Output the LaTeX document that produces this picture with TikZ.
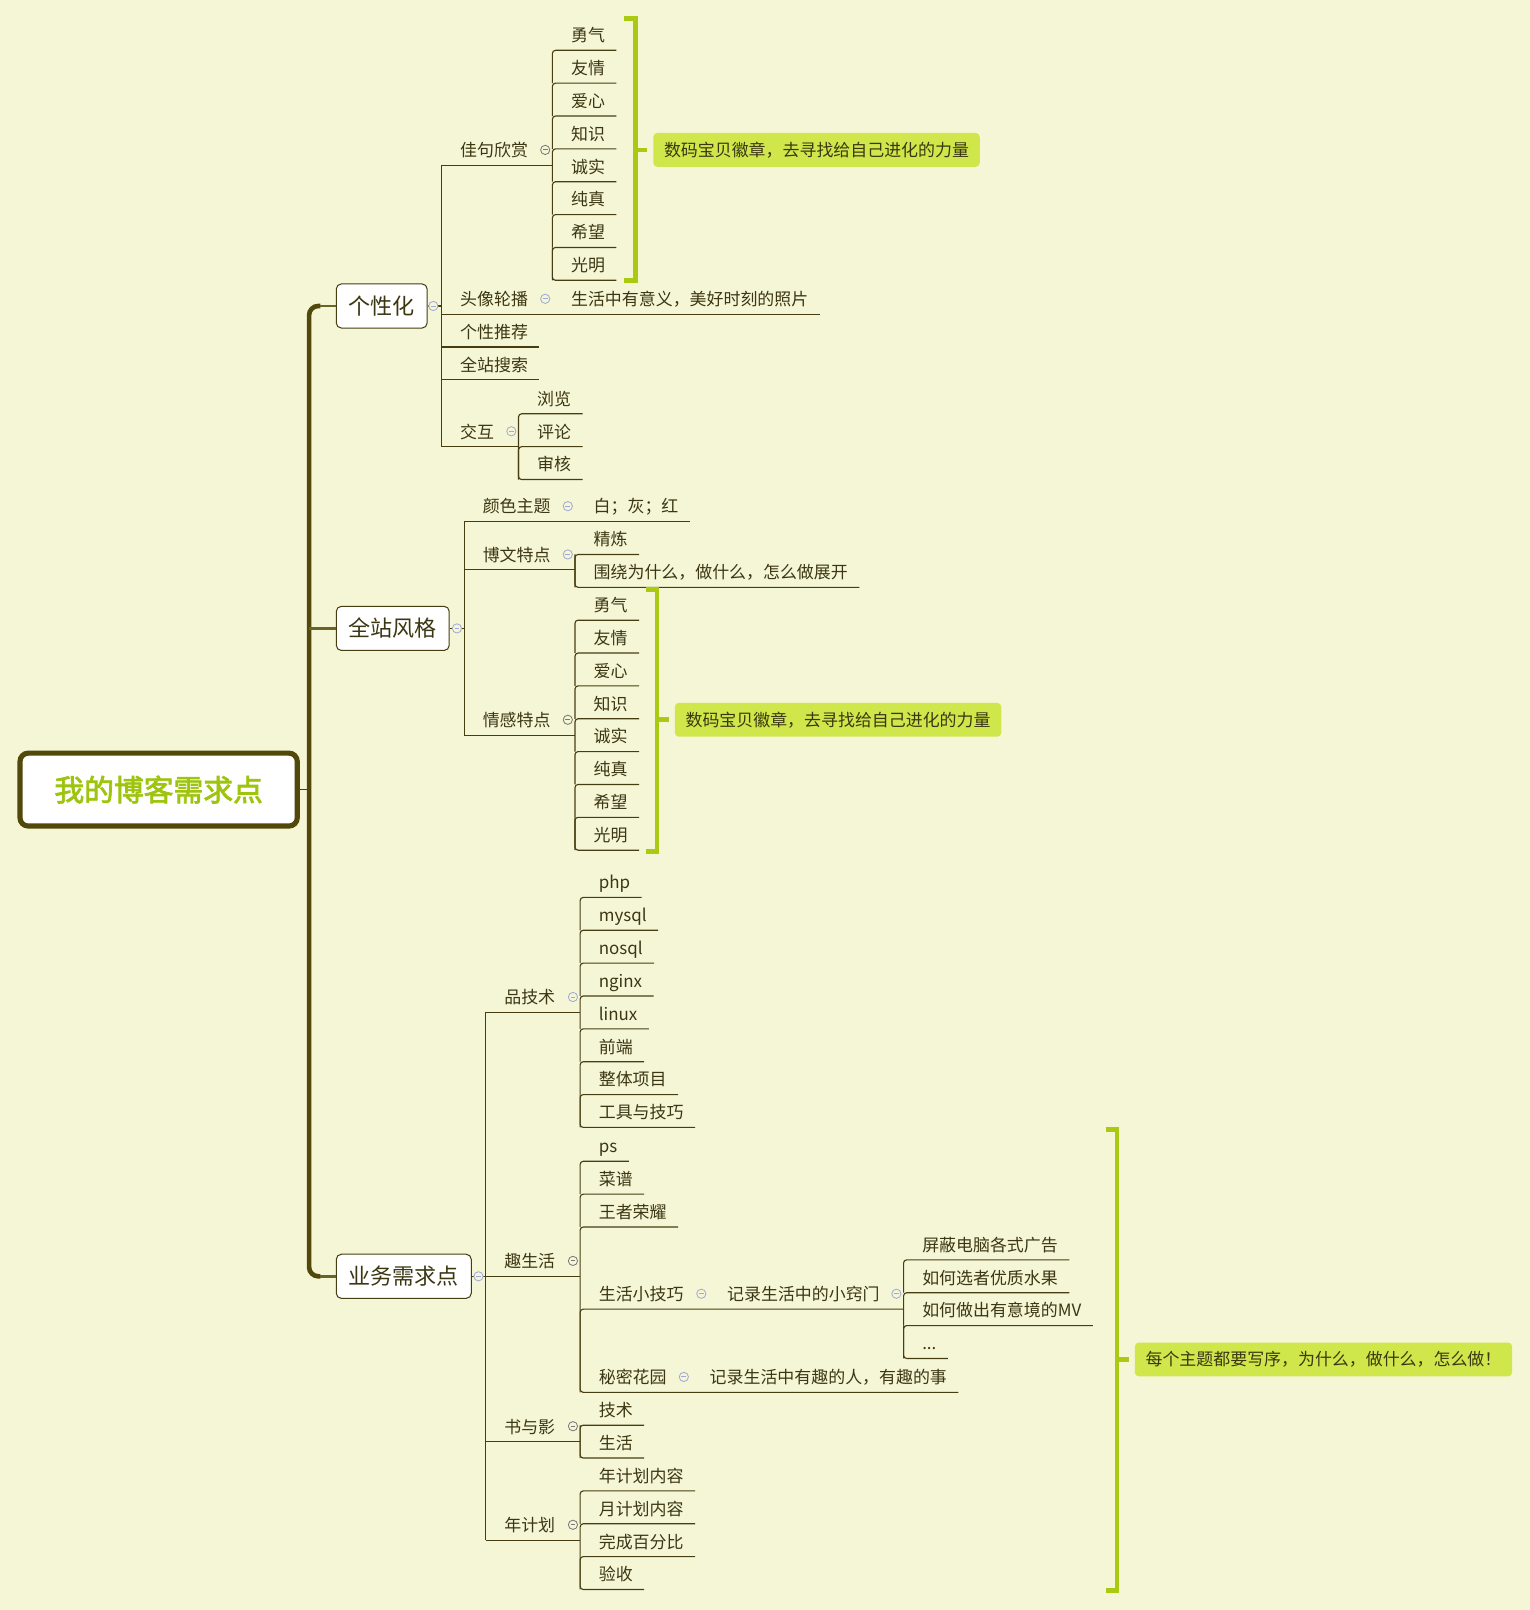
\documentclass[tikz,border=0pt]{standalone}
\usepackage{fontspec}
\setmainfont{Noto Sans CJK SC}
\newfontfamily\rootfont[FakeBold=2.5]{Noto Sans CJK SC}
\usetikzlibrary{calc}
\definecolor{bg}{RGB}{245,246,214}
\definecolor{txt}{RGB}{60,55,18}
\definecolor{lnc}{RGB}{70,62,18}
\definecolor{trunkc}{RGB}{82,72,10}
\definecolor{rootg}{RGB}{158,196,14}
\definecolor{brk}{RGB}{170,202,18}
\definecolor{cofill}{RGB}{207,231,74}
\definecolor{togl}{RGB}{160,168,215}
\definecolor{togd}{RGB}{120,120,120}
\tikzset{
 ln/.style={draw=lnc, line width=1.1pt},
 rc/.style={ln, rounded corners=3pt},
 leaf/.style={anchor=south west, inner xsep=11pt, inner ysep=8.2pt, text depth=0pt, text=txt, font=\fontsize{16.5}{20}\selectfont},
 topic/.style={anchor=west, draw=lnc, fill=white, rounded corners=5pt, line width=1pt, inner xsep=12pt, minimum height=43pt, text=txt, font=\fontsize{21.5}{26}\selectfont},
 rootbox/.style={draw=trunkc, line width=5pt, fill=white, rounded corners=8pt, minimum width=270pt, minimum height=71pt, text=rootg, font=\rootfont\fontsize{29}{34}\selectfont},
 callout/.style={anchor=west, fill=cofill, rounded corners=4pt, minimum height=33pt, inner xsep=10.5pt, text=txt, font=\fontsize{16.5}{20}\selectfont},
 brace/.style={draw=brk, line width=4.5pt},
 tog/.style={circle, draw=#1, line width=0.8pt, fill=bg, minimum size=9pt, inner sep=0pt, path picture={\draw[#1, line width=0.9pt] ([xshift=-2.3pt]path picture bounding box.center) -- ([xshift=2.3pt]path picture bounding box.center);}},
 trunk/.style={draw=trunkc, line width=4.5pt},
 twig/.style={draw=trunkc!85!bg, line width=2.5pt},
}
\newcommand\lf[4]{\node[leaf] (#1) at ({#2+7},#3) {#4};}
\newcommand\link[2]{\draw[rc] (#1.south east) -- ([xshift=-7pt]#1.south west) -- ([xshift=-7pt]#2.south west);}
\newcommand\linkend[2]{\draw[rc] ([xshift=-7pt]#1.south west) -- ([xshift=-7pt]#2.south west) -- (#2.south east);}
\begin{document}
\begin{tikzpicture}[x=1pt,y=-1pt]
\useasboundingbox (0,0) rectangle (1490,1568);
\fill[bg] (0,0) rectangle (1490,1568);

% root and topics
\node[rootbox] (root) at (154.5,769) {我的博客需求点};
\node[topic] (gxh) at (327,298) {个性化};
\node[topic] (qzfg) at (327,612) {全站风格};
\node[topic] (ywxq) at (327,1243) {业务需求点};
\coordinate (tk) at (301,769);
\draw[ln] (root.east) -- (tk);
\draw[trunk, rounded corners=9pt] ([xshift=-15pt]gxh.west) -- (tk |- gxh.west) -- (tk |- ywxq.west) -- ([xshift=-15pt]ywxq.west);
\draw[twig] ([xshift=-15.5pt]gxh.west) -- (gxh.west);
\draw[twig] ([xshift=-15.5pt]ywxq.west) -- (ywxq.west);
\draw[twig] (tk |- qzfg.west) -- (qzfg.west);

% ===== 个性化 =====
\lf{jjxs}{430}{161}{佳句欣赏}
\lf{txlb}{430}{306}{头像轮播}
\lf{gxtj}{430}{338}{个性推荐}
\lf{qzss}{430}{370}{全站搜索}
\lf{jh}{430}{435}{交互}
\draw[ln] (gxh.east) -- ([xshift=-7pt]jjxs.south west |- gxh.east);
\draw[ln] ([xshift=-7pt]jjxs.south west) -- ([xshift=-7pt]jh.south west);
\draw[ln] ([xshift=-7pt]gxtj.south west) -- (gxtj.south east);
\draw[ln] ([xshift=-7pt]qzss.south west) -- (qzss.south east);

% 佳句欣赏 children
\lf{a1}{538}{49}{勇气}
\lf{a2}{538}{81}{友情}
\lf{a3}{538}{113}{爱心}
\lf{a4}{538}{145}{知识}
\lf{a5}{538}{177}{诚实}
\lf{a6}{538}{209}{纯真}
\lf{a7}{538}{241}{希望}
\lf{a8}{538}{273}{光明}
\draw[ln] ([xshift=-7pt]jjxs.south west) -- ([xshift=-7pt]a1.south west |- jjxs.south);
\link{a1}{a2}\link{a2}{a3}\link{a3}{a4}\link{a4}{a5}\link{a5}{a6}\link{a6}{a7}\link{a7}{a8}\linkend{a7}{a8}

% 头像轮播 child
\lf{txc}{538}{306}{生活中有意义，美好时刻的照片}
\draw[ln] ([xshift=-7pt]txlb.south west) -- (txc.south east);

% 交互 children
\lf{b1}{505}{403}{浏览}
\lf{b2}{505}{435}{评论}
\lf{b3}{505}{467}{审核}
\draw[ln] ([xshift=-7pt]jh.south west) -- ([xshift=-7pt]b2.south west);
\link{b1}{b2}\link{b2}{b3}\linkend{b2}{b3}

% bracket 1
\coordinate (br1) at (619,146);
\draw[brace] (608,18) -- (619,18) -- (619,273) -- (608,273);
\node[callout] (co1) at (636,146) {数码宝贝徽章，去寻找给自己进化的力量};
\draw[brace] (br1) -- ([xshift=-6pt]co1.west);

% ===== 全站风格 =====
\lf{yszt}{452}{508}{颜色主题}
\lf{bwtd}{452}{555}{博文特点}
\lf{qgtd}{452}{716}{情感特点}
\draw[ln] (qzfg.east) -- ([xshift=-7pt]yszt.south west |- qzfg.east);
\draw[ln] ([xshift=-7pt]yszt.south west) -- ([xshift=-7pt]qgtd.south west);
\lf{ysc}{560}{508}{白；灰；红}
\draw[ln] ([xshift=-7pt]yszt.south west) -- (ysc.south east);
\lf{d1}{560}{540}{精炼}
\lf{d2}{560}{572}{围绕为什么，做什么，怎么做展开}
\draw[ln] ([xshift=-7pt]bwtd.south west) -- ([xshift=-7pt]d1.south west |- bwtd.south);
\link{d1}{d2}\linkend{d1}{d2}
\lf{e1}{560}{604}{勇气}
\lf{e2}{560}{636}{友情}
\lf{e3}{560}{668}{爱心}
\lf{e4}{560}{700}{知识}
\lf{e5}{560}{732}{诚实}
\lf{e6}{560}{764}{纯真}
\lf{e7}{560}{796}{希望}
\lf{e8}{560}{828}{光明}
\draw[ln] ([xshift=-7pt]qgtd.south west) -- ([xshift=-7pt]e1.south west |- qgtd.south);
\link{e1}{e2}\link{e2}{e3}\link{e3}{e4}\link{e4}{e5}\link{e5}{e6}\link{e6}{e7}\link{e7}{e8}\linkend{e7}{e8}

% bracket 2
\coordinate (br2) at (640,701);
\draw[brace] (629,574) -- (640,574) -- (640,829) -- (629,829);
\node[callout] (co2) at (657,701) {数码宝贝徽章，去寻找给自己进化的力量};
\draw[brace] (br2) -- ([xshift=-5pt]co2.west);

% ===== 业务需求点 =====
\lf{pjs}{473}{986}{品技术}
\lf{qsh}{473}{1243}{趣生活}
\lf{syy}{473}{1404}{书与影}
\lf{njh}{473}{1500}{年计划}
\draw[ln] (ywxq.east) -- ([xshift=-7pt]pjs.south west |- ywxq.east);
\draw[ln] ([xshift=-7pt]pjs.south west) -- ([xshift=-7pt]njh.south west);

% 品技术 children
\lf{f1}{565}{874}{php}
\lf{f2}{565}{906}{mysql}
\lf{f3}{565}{938}{nosql}
\lf{f4}{565}{970}{nginx}
\lf{f5}{565}{1002}{linux}
\lf{f6}{565}{1034}{前端}
\lf{f7}{565}{1066}{整体项目}
\lf{f8}{565}{1098}{工具与技巧}
\draw[ln] ([xshift=-7pt]pjs.south west) -- ([xshift=-7pt]f1.south west |- pjs.south);
\link{f1}{f2}\link{f2}{f3}\link{f3}{f4}\link{f4}{f5}\link{f5}{f6}\link{f6}{f7}\link{f7}{f8}\linkend{f7}{f8}

% 趣生活 children
\lf{g1}{565}{1131}{ps}
\lf{g2}{565}{1163}{菜谱}
\lf{g3}{565}{1195}{王者荣耀}
\lf{g4}{565}{1275}{生活小技巧}
\lf{g5}{565}{1356}{秘密花园}
\lf{h1}{690}{1275}{记录生活中的小窍门}
\lf{h2}{673}{1356}{记录生活中有趣的人，有趣的事}
\lf{i1}{880}{1227}{屏蔽电脑各式广告}
\lf{i2}{880}{1259}{如何选者优质水果}
\lf{i3}{880}{1291}{如何做出有意境的MV}
\lf{i4}{880}{1323}{...}
\draw[ln] ([xshift=-7pt]qsh.south west) -- ([xshift=-7pt]g1.south west |- qsh.south);
\link{g1}{g2}\link{g2}{g3}\link{g3}{g4}
\draw[rc] ([xshift=-7pt]i1.south west |- g4.south) -- ([xshift=-7pt]g4.south west) -- ([xshift=-7pt]g5.south west);
\draw[rc] ([xshift=-7pt]g4.south west) -- ([xshift=-7pt]g5.south west) -- (h2.south east);
\link{i1}{i2}\link{i2}{i3}\link{i3}{i4}\linkend{i3}{i4}

% 书与影 children
\lf{j1}{565}{1388}{技术}
\lf{j2}{565}{1420}{生活}
\draw[ln] ([xshift=-7pt]syy.south west) -- ([xshift=-7pt]j1.south west |- syy.south);
\link{j1}{j2}\linkend{j1}{j2}

% 年计划 children
\lf{k1}{565}{1452}{年计划内容}
\lf{k2}{565}{1484}{月计划内容}
\lf{k3}{565}{1516}{完成百分比}
\lf{k4}{565}{1548}{验收}
\draw[ln] ([xshift=-7pt]njh.south west) -- ([xshift=-7pt]k1.south west |- njh.south);
\link{k1}{k2}\link{k2}{k3}\link{k3}{k4}\linkend{k3}{k4}

% bracket 3
\coordinate (br3) at (1088,1324);
\draw[brace] (1077,1100) -- (1088,1100) -- (1088,1549) -- (1077,1549);
\node[callout] (co3) at (1105,1324) {每个主题都要写序，为什么，做什么，怎么做！};
\draw[brace] (br3) -- ([xshift=-5pt]co3.west);

% collapse toggles
\node[tog=togl] (t1) at (422,298) {};
\node[tog=togd] (t2) at (531,146) {};
\node[tog=togl] (t3) at (531,291) {};
\node[tog=togl] (t4) at (498,420) {};
\node[tog=togl] (t5) at (445,612) {};
\node[tog=togl] (t6) at (553,493) {};
\node[tog=togl] (t7) at (553,540) {};
\node[tog=togd] (t8) at (553,701) {};
\node[tog=togl] (t9) at (466,1243) {};
\node[tog=togl] (t10) at (558,971) {};
\node[tog=togd] (t11) at (558,1228) {};
\node[tog=togl] (t12) at (683,1260) {};
\node[tog=togl] (t13) at (873,1260) {};
\node[tog=togl] (t14) at (666,1341) {};
\node[tog=togd] (t15) at (558,1389) {};
\node[tog=togd] (t16) at (558,1485) {};
\end{tikzpicture}
\end{document}
